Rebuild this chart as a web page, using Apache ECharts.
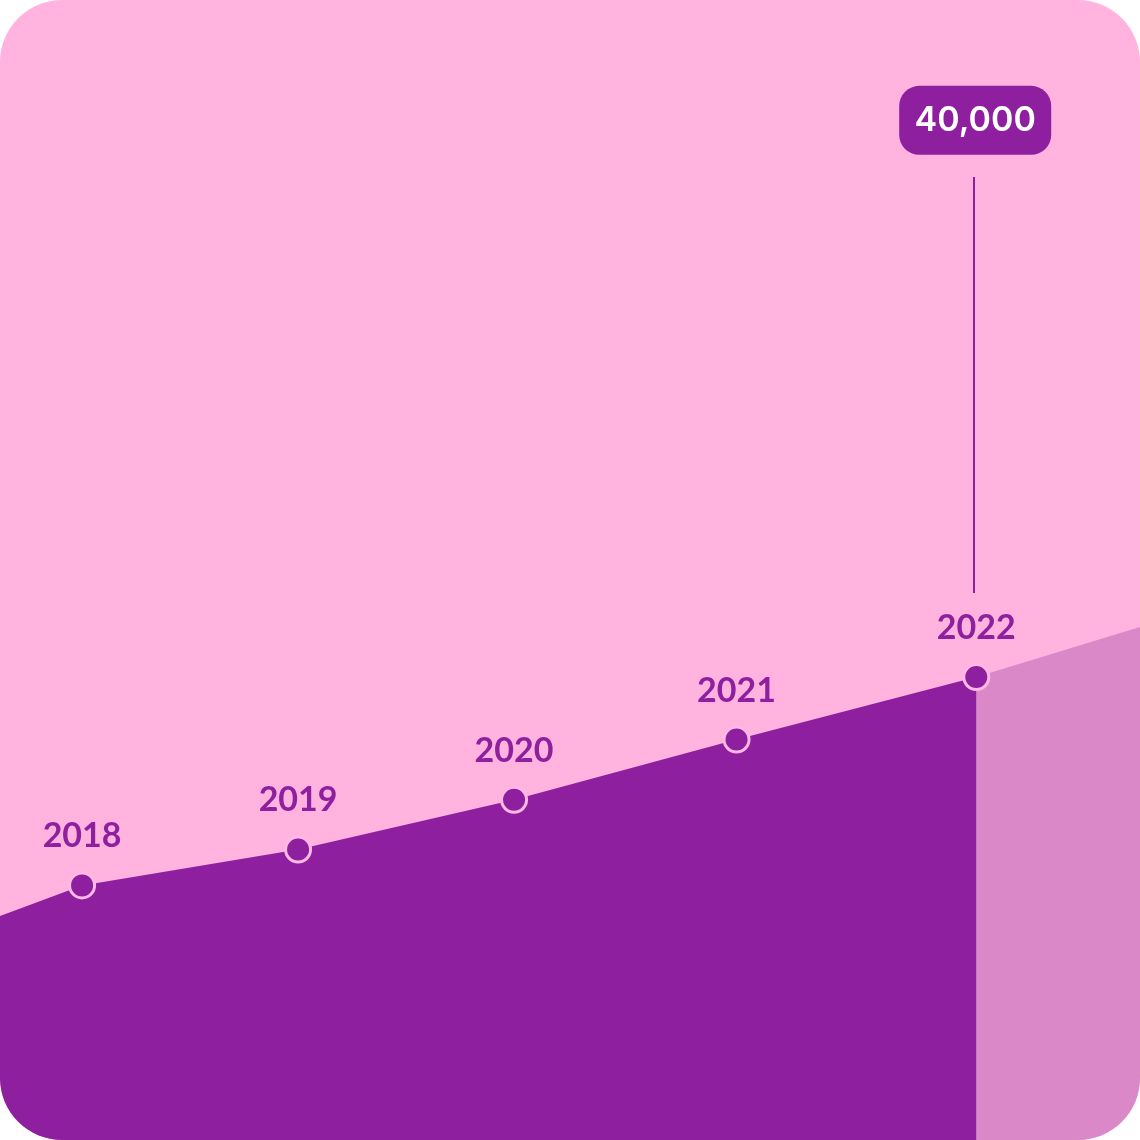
<!DOCTYPE html>
<html>
<head>
<meta charset="utf-8">
<script src="https://cdn.jsdelivr.net/npm/echarts@6/dist/echarts.min.js"></script>
<style>
  html, body { margin: 0; padding: 0; background: #ffffff; }
  #wrap { width: 1140px; height: 1140px; border-radius: 62px; overflow: hidden; background: #ffb3de; }
  #chart { width: 1140px; height: 1140px; }
</style>
</head>
<body>
<div id="wrap"><div id="chart"></div></div>
<script>
// Data
const years = ['2018', '2019', '2020', '2021', '2022'];
const yearPos = [2018, 2019, 2020, 2021.03, 2022.14];   // horizontal position of each point (year units)
const values = [22000, 25100, 29400, 34600, 40000];
const leftEdge = [2017.62, 19350];    // line continues to the left border
const rightEdge = [2022.898, 44330];  // projection continues to the right border
const highlightValueLabel = '40,000';
const calloutLine = [47260, 83200];   // value range of the callout stem
const calloutBoxValue = 88100;        // value level of the callout box centre
const yMax = 98500;

const DARK = '#8e1f9f';
const LIGHT = '#db88c9';

const darkData = [{ value: leftEdge, symbol: 'none', label: { show: false } }]
  .concat(years.map((y, i) => ({ value: [yearPos[i], values[i]], name: y })));

const lastIdx = years.length - 1;
const lightData = [[yearPos[lastIdx], values[lastIdx]], rightEdge];

const chart = echarts.init(document.getElementById('chart'), null, { renderer: 'canvas' });
chart.setOption({
  animation: false,
  backgroundColor: 'transparent',
  grid: { left: 0, right: 0, top: 0, bottom: 0 },
  xAxis: { type: 'value', min: leftEdge[0], max: rightEdge[0], show: false },
  yAxis: { type: 'value', min: 0, max: yMax, show: false },
  series: [
    {
      type: 'line',
      data: lightData,
      symbol: 'none',
      lineStyle: { width: 0, color: LIGHT },
      areaStyle: { color: LIGHT, opacity: 1 },
      z: 1
    },
    {
      type: 'line',
      data: darkData,
      symbol: 'circle',
      symbolSize: 25,
      showAllSymbol: true,
      lineStyle: { width: 0, color: DARK },
      itemStyle: { color: DARK, borderColor: '#ffb9e2', borderWidth: 3 },
      areaStyle: { color: DARK, opacity: 1 },
      label: {
        show: true,
        position: 'top',
        distance: 19,
        formatter: p => p.name,
        color: DARK,
        fontFamily: 'Lato',
        fontWeight: 'bold',
        fontSize: 34,
        lineHeight: 32
      },
      markLine: {
        silent: true,
        symbol: 'none',
        label: { show: false },
        lineStyle: { color: DARK, width: 2, type: 'solid' },
        data: [[
          { coord: [yearPos[lastIdx] - 0.01, calloutLine[0]] },
          { coord: [yearPos[lastIdx] - 0.01, calloutLine[1]] }
        ]]
      },
      markPoint: {
        silent: true,
        symbol: 'circle',
        symbolSize: 0,
        data: [{
          coord: [yearPos[lastIdx] - 0.005, calloutBoxValue],
          label: {
            show: true,
            position: 'inside',
            formatter: highlightValueLabel,
            color: '#ffffff',
            fontFamily: 'Inter',
            fontWeight: 600,
            fontSize: 34,
            backgroundColor: DARK,
            borderRadius: 20,
            width: 152,
            height: 69,
            lineHeight: 69,
            align: 'center',
            verticalAlign: 'middle',
            padding: 0
          }
        }]
      },
      z: 3
    }
  ]
});
</script>
</body>
</html>
